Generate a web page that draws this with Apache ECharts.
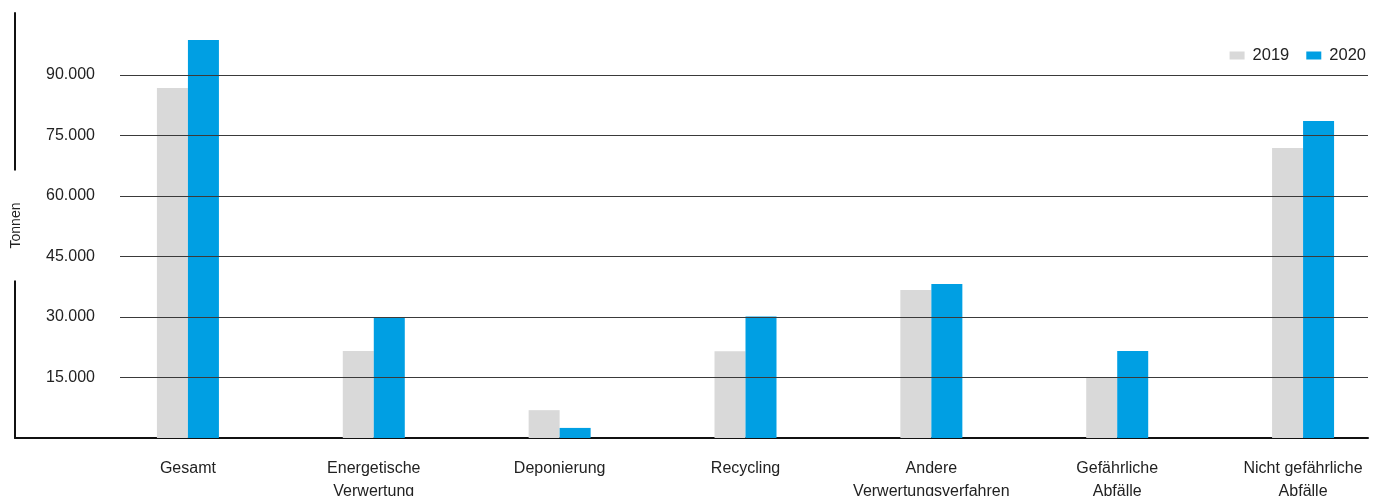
<!DOCTYPE html>
<html>
<head>
<meta charset="utf-8">
<script src="https://cdn.jsdelivr.net/npm/echarts@6/dist/echarts.min.js"></script>
<style>html,body{margin:0;padding:0;background:#fff}#c{width:1381px;height:496px}</style>
</head>
<body>
<div id="c"></div>
<script>
const categories = ['Gesamt', 'Energetische\nVerwertung', 'Deponierung', 'Recycling', 'Andere\nVerwertungsverfahren', 'Gefährliche\nAbfälle', 'Nicht gefährliche\nAbfälle'];
const seriesNames = ['2019', '2020'];
const values2019 = [86800, 21600, 6900, 21500, 36700, 14900, 71900];
const values2020 = [98700, 30000, 2500, 30100, 38200, 21600, 78600];
const yMin = 0, yMax = 105000, yStep = 15000;
const yAxisTitle = 'Tonnen';

const fontFam = 'Liberation Sans, Arial, sans-serif';
const chart = echarts.init(document.getElementById('c'), null, {renderer: 'canvas'});
const fmt = v => v === 0 ? '' : v.toLocaleString('de-DE');
chart.setOption({
  animation: false,
  legend: {
    right: 10, top: 42, itemWidth: 15, itemHeight: 8, itemGap: 17,
    icon: 'rect',
    textStyle: {fontFamily: fontFam, fontSize: 16.5, color: '#222', padding: [0, 0, 0, 3]},
    data: seriesNames
  },
  grid: [
    {left: 95, width: 1301, top: 14.5, bottom: 58, outerBoundsMode: 'none', containLabel: false},
    {left: 120, right: 13, top: 14.5, bottom: 58, outerBoundsMode: 'none', containLabel: false},
    {left: 15, right: 13, top: 13, bottom: 58, outerBoundsMode: 'none', containLabel: false}
  ],
  xAxis: [
    {type: 'category', gridIndex: 0, data: categories,
     axisLine: {show: false}, axisTick: {show: false},
     axisLabel: {interval: 0, margin: 19, lineHeight: 23, fontSize: 16, fontFamily: fontFam, color: '#222'}},
    {type: 'category', gridIndex: 1, data: categories, show: false},
    {type: 'category', gridIndex: 2, data: categories,
     axisLine: {show: true, lineStyle: {color: '#111', width: 2}},
     axisTick: {show: false}, axisLabel: {show: false}}
  ],
  yAxis: [
    {type: 'value', gridIndex: 0, min: yMin, max: yMax, interval: yStep, show: false},
    {type: 'value', gridIndex: 1, min: yMin, max: yMax, interval: yStep, z: 10,
     axisLine: {show: false}, axisTick: {show: false},
     splitLine: {show: true, showMinLine: false, showMaxLine: false, lineStyle: {color: '#3a3a3a', width: 1}},
     axisLabel: {margin: 25, fontSize: 16, fontFamily: fontFam, color: '#222', formatter: fmt, showMaxLabel: false}},
    {type: 'value', gridIndex: 2, min: yMin, max: yMax, interval: yStep, position: 'left', offset: 0, z: 1,
     axisLine: {show: true, lineStyle: {color: '#111', width: 2}},
     axisTick: {show: false}, axisLabel: {show: false}, splitLine: {show: false}},
    {type: 'value', gridIndex: 2, min: yMin, max: yMax, interval: yStep, position: 'left', offset: 0, z: 20,
     axisLine: {show: false}, axisTick: {show: false}, axisLabel: {show: false}, splitLine: {show: false},
     name: yAxisTitle, nameLocation: 'middle', nameRotate: 90, nameGap: -8,
     nameTextStyle: {fontFamily: fontFam, fontSize: 14, color: '#222', backgroundColor: '#fff', padding: [0, 32, 0, 32]}}
  ],
  series: [
    {name: seriesNames[0], type: 'bar', xAxisIndex: 0, yAxisIndex: 0, data: values2019,
     barWidth: 31, barGap: '0%', itemStyle: {color: '#d9d9d9'}},
    {name: seriesNames[1], type: 'bar', xAxisIndex: 0, yAxisIndex: 0, data: values2020,
     barWidth: 31, barGap: '0%', itemStyle: {color: '#009fe3'}}
  ]
});
</script>
</body>
</html>
